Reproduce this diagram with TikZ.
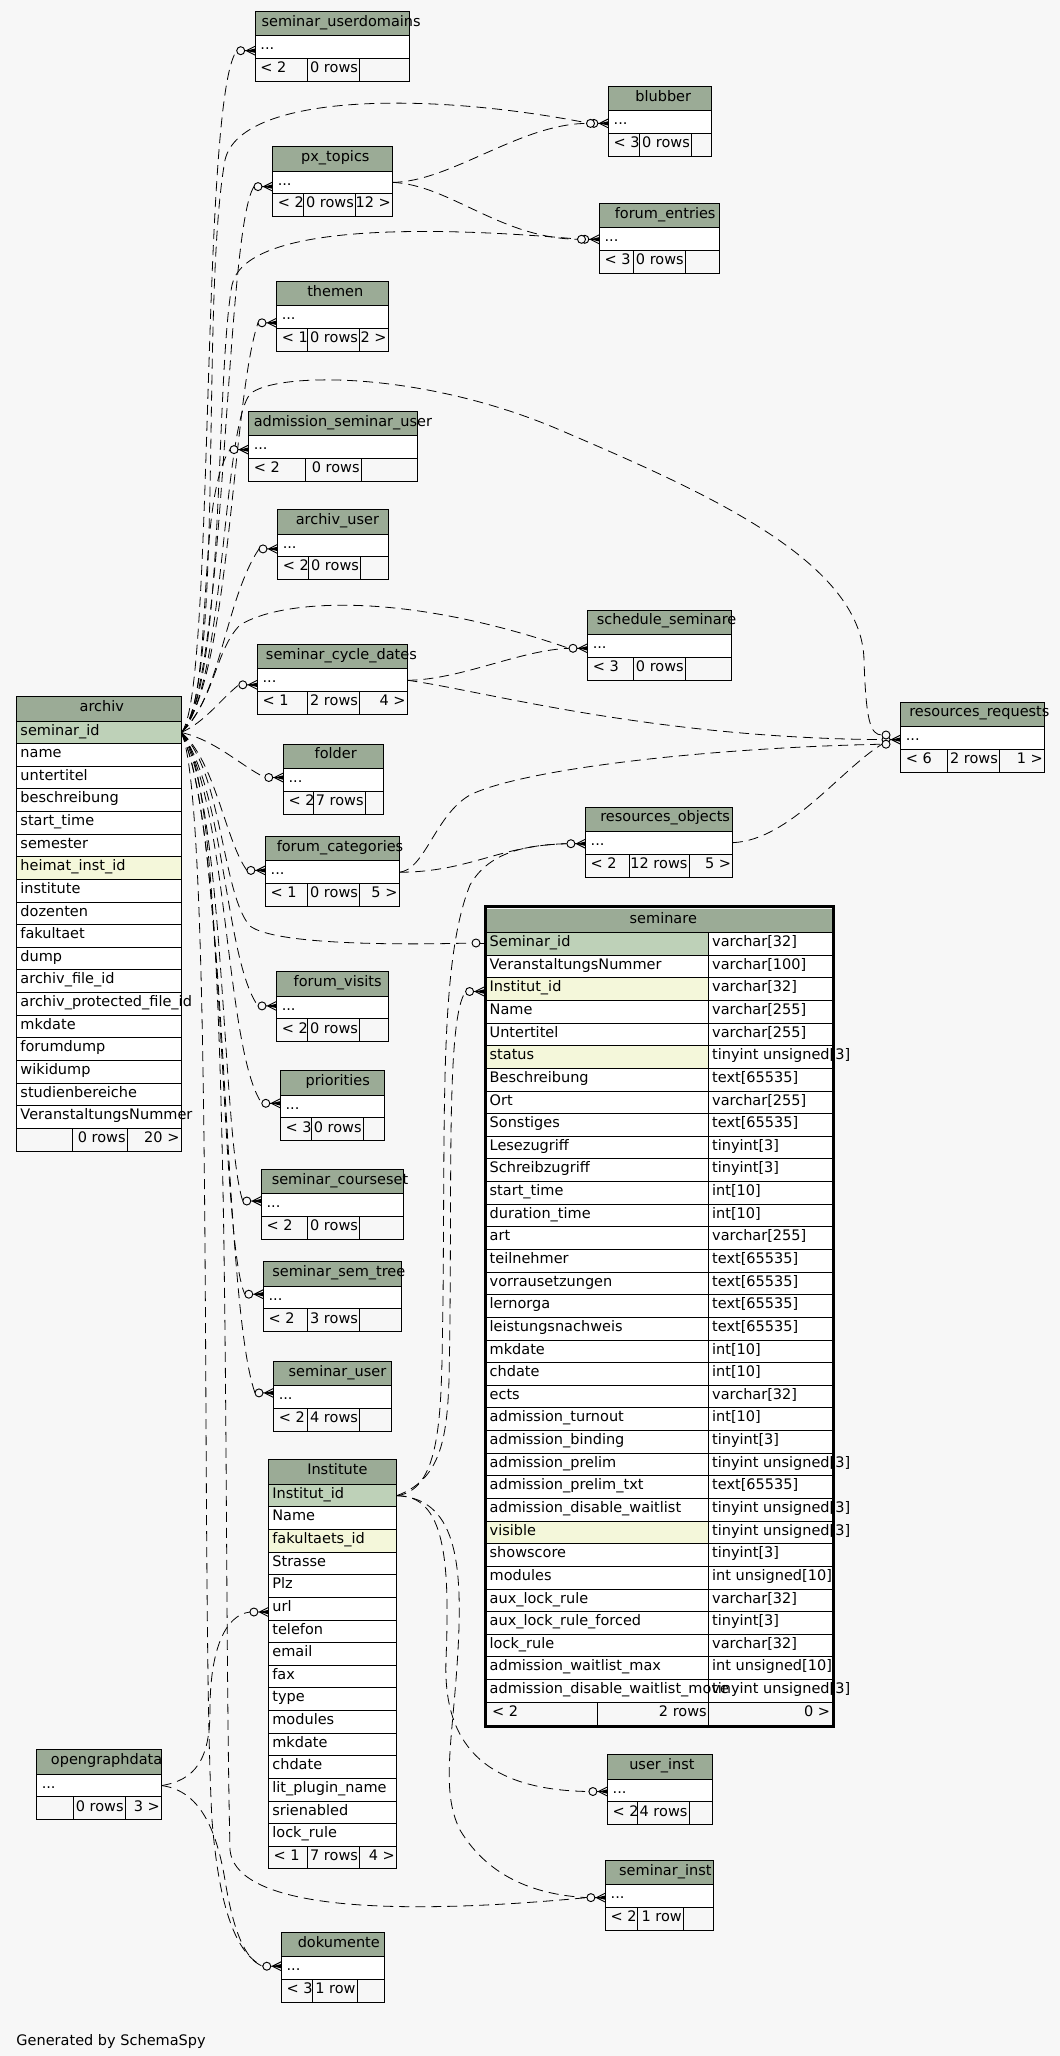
\documentclass[tikz,border=0pt]{standalone}
\usepackage{fontspec}
\setmainfont{DejaVu Sans}
\definecolor{bg}{HTML}{F7F7F7}
\definecolor{hdr}{HTML}{9BAB96}
\definecolor{pk}{HTML}{BED1B8}
\definecolor{idx}{HTML}{F4F7DA}
\newcommand\tfont{\fontsize{10.875pt}{13pt}\selectfont}
\pgfdeclarelayer{back}
\pgfdeclarelayer{edges}
\pgfsetlayers{back,edges,main}
\tikzset{
 txt/.style={inner sep=0pt, anchor=base west, font=\tfont},
 txtr/.style={inner sep=0pt, anchor=base east, font=\tfont},
 cell/.style={draw=black, line width=0.7pt},
 rel/.style={draw=black, line width=0.6pt, dash pattern=on 7.5pt off 4.5pt},
}
% small table: name, title, titlex, x0, y0, x1, c1, c2, f1 | f2, f3
\newcommand\stab[9]{\def\tbN{#1}\def\tbT{#2}\def\tbTX{#3}\def\tbXa{#4}\def\tbYa{#5}\def\tbXb{#6}\def\tbCa{#7}\def\tbCb{#8}\def\tbFa{#9}\stabB}
\newcommand\stabB[2]{%
 \pgfmathsetmacro\tbYb{\tbYa+24.3}%
 \pgfmathsetmacro\tbYc{\tbYb+22.7}%
 \pgfmathsetmacro\tbYd{\tbYc+23}%
 \pgfmathsetmacro\tbHm{(\tbYa+\tbYb)/2+2.7}%
 \pgfmathsetmacro\tbRm{(\tbYb+\tbYc)/2}%
 \pgfmathsetmacro\tbRb{\tbRm+2.7}%
 \pgfmathsetmacro\tbFm{(\tbYc+\tbYd)/2+2.7}%
 \pgfmathsetmacro\tbXl{\tbXa+5}%
 \pgfmathsetmacro\tbXr{\tbXb-1.5}%
 \pgfmathsetmacro\tbXc{\tbCb-1.5}%
 \fill[hdr] (\tbXa,\tbYa) rectangle (\tbXb,\tbYb);
 \fill[white] (\tbXa,\tbYb) rectangle (\tbXb,\tbYc);
 \fill[bg] (\tbXa,\tbYc) rectangle (\tbXb,\tbYd);
 \node[txt] (\tbN-title) at (\tbTX,\tbHm) {\tbT};
 \node[txt] (\tbN-row) at (\tbXl,\tbRb) {...};
 \node[txt] (\tbN-f1) at (\tbXl,\tbFm) {\tbFa};
 \node[txtr] (\tbN-f2) at (\tbXc,\tbFm) {#1};
 \node[txtr] (\tbN-f3) at (\tbXr,\tbFm) {#2};
 \draw[cell] (\tbXa,\tbYa) rectangle (\tbXb,\tbYd) (\tbXa,\tbYb) -- (\tbXb,\tbYb) (\tbXa,\tbYc) -- (\tbXb,\tbYc) (\tbCa,\tbYc) -- (\tbCa,\tbYd) (\tbCb,\tbYc) -- (\tbCb,\tbYd);
 \coordinate (\tbN-w) at (\tbXa,\tbRm);
 \coordinate (\tbN-e) at (\tbXb,\tbRm);
}
% crow's foot with circle: name, edge x, y
\newcommand\crow[3]{%
 \coordinate (#1) at ({#2-18.5},#3);
 \draw[cell] ({#2-10.5},#3) -- (#2,#3) ({#2-9},#3) -- (#2,{#3-4.5}) ({#2-9},#3) -- (#2,{#3+4.5});
 \fill ({#2-9},#3) -- (#2,{#3-2.2}) -- (#2,{#3+2.2}) -- cycle;
 \filldraw[cell, fill=bg] ({#2-14.5},#3) circle[radius=3pt];
}
\newcommand\extcirc[3]{%
 \coordinate (#1) at ({#2-4},#3);
 \filldraw[cell, fill=bg] (#2,#3) circle[radius=3pt];
}
\begin{document}
\begin{tikzpicture}[x=0.75pt,y=-0.75pt]
\useasboundingbox (0,0) rectangle (1060,2056);
\begin{pgfonlayer}{back}
\fill[bg] (0,0) rectangle (1060,2056);
\end{pgfonlayer}

% ---------- small tables
\stab{ud}{seminar\_userdomains}{261.3}{255.2}{11.5}{409.4}{307.3}{359.7}{< 2}{0 rows}{}
\stab{px}{px\_topics}{300.9}{272.5}{146.7}{392.5}{303.6}{355.6}{< 2}{0 rows}{12 >}
\stab{th}{themen}{307}{276.5}{281.3}{388.4}{307.3}{359.7}{< 1}{0 rows}{2 >}
\stab{bl}{blubber}{635.1}{608.4}{86.5}{711.5}{639.2}{691.6}{< 3}{0 rows}{}
\stab{fe}{forum\_entries}{614.5}{599.3}{203.2}{719.7}{633.4}{685.5}{< 3}{0 rows}{}
\stab{asu}{admission\_seminar\_user}{253.5}{248.5}{411.4}{417.8}{305.3}{361.4}{< 2}{0 rows}{}
\stab{au}{archiv\_user}{295.5}{277.5}{509.7}{388.4}{308.3}{360.7}{< 2}{0 rows}{}
\stab{scd}{seminar\_cycle\_dates}{265.7}{257.3}{644.6}{407.4}{307.3}{359.7}{< 1}{2 rows}{4 >}
\stab{fo}{folder}{314.4}{283.3}{744}{383.4}{313.4}{365.4}{< 2}{7 rows}{}
\stab{ss}{schedule\_seminare}{596.6}{587.5}{610}{731.8}{633.4}{685.5}{< 3}{0 rows}{}
\stab{rr}{resources\_requests}{909}{900.5}{702}{1044.5}{947.5}{999.6}{< 6}{2 rows}{1 >}
\stab{ro}{resources\_objects}{600}{585.4}{807}{732.8}{629.4}{689.2}{< 2}{12 rows}{5 >}
\stab{fc}{forum\_categories}{276.5}{265.4}{836.6}{399.2}{307.3}{359.7}{< 1}{0 rows}{5 >}
\stab{fv}{forum\_visits}{293.4}{276.5}{971.8}{388.4}{307.3}{359.7}{< 2}{0 rows}{}
\stab{pr}{priorities}{305.3}{280.3}{1070.8}{384.4}{311}{363.4}{< 3}{0 rows}{}
\stab{cs}{seminar\_courseset}{271.5}{261.3}{1169.6}{403.3}{307.3}{359.7}{< 2}{0 rows}{}
\stab{st}{seminar\_sem\_tree}{272.1}{263.3}{1261.8}{401.3}{307.3}{359.7}{< 2}{3 rows}{}
\stab{su}{seminar\_user}{288.4}{273.5}{1361.2}{391.5}{307.3}{359.7}{< 2}{4 rows}{}
\stab{og}{opengraphdata}{50.7}{36.5}{1749.9}{161.6}{73.4}{125.4}{}{0 rows}{3 >}
\stab{ui}{user\_inst}{629}{607.4}{1754.9}{712.6}{637.5}{689.2}{< 2}{4 rows}{}
\stab{si}{seminar\_inst}{618.9}{605.4}{1860.4}{713.6}{637.5}{683.5}{< 2}{1 row}{}
\stab{dk}{dokumente}{297.5}{281.3}{1932.4}{384.4}{312.7}{357.3}{< 3}{1 row}{}

% ---------- archiv
\fill[hdr] (16.2,696.7) rectangle (181.2,721);
\fill[white] (16.2,721) rectangle (181.2,1128.3);
\fill[pk] (16.2,721) rectangle (181.2,743.63);
\fill[idx] (16.2,{721+6*22.63}) rectangle (181.2,{721+7*22.63});
\fill[bg] (16.2,1128.3) rectangle (181.2,1151.6);
\node[txt] (archiv-title) at (79.4,711.6) {archiv};
\foreach \t [count=\i from 0] in {seminar\_id,name,untertitel,beschreibung,start\_time,semester,heimat\_inst\_id,institute,dozenten,fakultaet,dump,archiv\_file\_id,archiv\_protected\_file\_id,mkdate,forumdump,wikidump,studienbereiche,VeranstaltungsNummer}{
  \node[txt] (archiv-c\i) at (20.2,{721+22.63*\i+14}) {\t};
  \draw[cell] (16.2,{721+22.63*(\i+1)}) -- (181.2,{721+22.63*(\i+1)});
}
\node[txtr] (archiv-f2) at (125.9,1142.7) {0 rows};
\node[txtr] (archiv-f3) at (179.7,1142.7) {20 >};
\draw[cell] (16.2,696.7) rectangle (181.2,1151.6) (16.2,721) -- (181.2,721) (72.3,1128.3) -- (72.3,1151.6) (127.4,1128.3) -- (127.4,1151.6);
\coordinate (archiv-sid) at (181.2,732.5);

% ---------- Institute
\fill[hdr] (268.4,1459.9) rectangle (396.5,1484.2);
\fill[white] (268.4,1484.2) rectangle (396.5,1846.3);
\fill[pk] (268.4,1484.2) rectangle (396.5,1506.83);
\fill[idx] (268.4,{1484.2+2*22.63}) rectangle (396.5,{1484.2+3*22.63});
\fill[bg] (268.4,1846.3) rectangle (396.5,1868.5);
\node[txt] (inst-title) at (307,1474.7) {Institute};
\foreach \t [count=\i from 0] in {Institut\_id,Name,fakultaets\_id,Strasse,Plz,url,telefon,email,fax,type,modules,mkdate,chdate,lit\_plugin\_name,srienabled,lock\_rule}{
  \node[txt] (inst-c\i) at (272.1,{1484.2+22.63*\i+14}) {\t};
  \draw[cell] (268.4,{1484.2+22.63*(\i+1)}) -- (396.5,{1484.2+22.63*(\i+1)});
}
\node[txt] (inst-f1) at (273.4,1860.1) {< 1};
\node[txtr] (inst-f2) at (358.2,1860.1) {7 rows};
\node[txtr] (inst-f3) at (395,1860.1) {4 >};
\draw[cell] (268.4,1459.9) rectangle (396.5,1868.5) (268.4,1484.2) -- (396.5,1484.2) (307.3,1846.3) -- (307.3,1868.5) (359.7,1846.3) -- (359.7,1868.5);
\coordinate (inst-id) at (396.5,1495.7);

% ---------- seminare
\fill[hdr] (486.8,908.6) rectangle (831.9,932.6);
\fill[white] (486.8,932.6) rectangle (831.9,1702.2);
\fill[pk] (486.8,932.6) rectangle (708.5,955.235);
\fill[idx] (486.8,{932.6+2*22.635}) rectangle (708.5,{932.6+3*22.635});
\fill[idx] (486.8,{932.6+5*22.635}) rectangle (708.5,{932.6+6*22.635});
\fill[idx] (486.8,{932.6+26*22.635}) rectangle (708.5,{932.6+27*22.635});
\fill[bg] (486.8,1702.2) rectangle (831.9,1725.2);
\node[txt] (sem-title) at (629.4,923.3) {seminare};
\foreach \n/\ty [count=\i from 0] in {Seminar\_id/varchar[32],VeranstaltungsNummer/varchar[100],Institut\_id/varchar[32],Name/varchar[255],Untertitel/varchar[255],status/tinyint unsigned[3],Beschreibung/text[65535],Ort/varchar[255],Sonstiges/text[65535],Lesezugriff/tinyint[3],Schreibzugriff/tinyint[3],start\_time/int[10],duration\_time/int[10],art/varchar[255],teilnehmer/text[65535],vorrausetzungen/text[65535],lernorga/text[65535],leistungsnachweis/text[65535],mkdate/int[10],chdate/int[10],ects/varchar[32],admission\_turnout/int[10],admission\_binding/tinyint[3],admission\_prelim/tinyint unsigned[3],admission\_prelim\_txt/text[65535],admission\_disable\_waitlist/tinyint unsigned[3],visible/tinyint unsigned[3],showscore/tinyint[3],modules/int unsigned[10],aux\_lock\_rule/varchar[32],aux\_lock\_rule\_forced/tinyint[3],lock\_rule/varchar[32],admission\_waitlist\_max/int unsigned[10],admission\_disable\_waitlist\_move/tinyint unsigned[3]}{
  \node[txt] (sem-n\i) at (489.4,{932.6+22.635*\i+14}) {\n};
  \node[txt] (sem-t\i) at (711.9,{932.6+22.635*\i+14}) {\ty};
}
\node[txt] (sem-f1) at (491.8,1716.4) {< 2};
\node[txtr] (sem-f2) at (707,1716.4) {2 rows};
\node[txtr] (sem-f3) at (830.4,1716.4) {0 >};
\foreach \i in {1,...,34}{
  \draw[cell] (486.8,{932.6+22.635*\i}) -- (831.9,{932.6+22.635*\i});
}
\draw[cell] (486.8,932.6) -- (831.9,932.6) (708.5,932.6) -- (708.5,1725.2) (597.3,1702.2) -- (597.3,1725.2);
\draw[line width=2.25pt] (485.5,906.5) rectangle (833.6,1726.2);

% ---------- end markers
\crow{ud-in}{255.2}{50.7}
\crow{bl-in}{608.4}{123.4}
\extcirc{bl-in2}{590.5}{123.4}
\crow{px-in}{272.5}{186.6}
\crow{fe-in}{599.3}{239.3}
\extcirc{fe-in2}{581.5}{239.3}
\crow{th-in}{276.5}{322.8}
\crow{asu-in}{248.5}{449.6}
\crow{au-in}{277.5}{548.9}
\crow{ss-in}{587.5}{648.3}
\crow{scd-in}{257.3}{684.8}
\crow{rr-in}{900.5}{739.6}
\extcirc{rr-in2}{886}{744.2}
\extcirc{rr-in3}{886}{735}
\crow{fo-in}{283.3}{777.5}
\crow{ro-in}{585.4}{843.7}
\crow{fc-in}{265.4}{870.4}
\crow{fv-in}{276.5}{1005.9}
\crow{pr-in}{280.3}{1103.3}
\crow{cs-in}{261.3}{1201}
\crow{st-in}{263.3}{1294.2}
\crow{su-in}{273.5}{1392.9}
\crow{url-in}{268.4}{1612}
\crow{ui-in}{607.4}{1791.5}
\crow{si-in}{605.4}{1897.6}
\crow{dk-in}{281.3}{1966.2}
\crow{sem-iid}{484.1}{991.5}
\coordinate (sem-sid) at (472,943);
\draw[cell] (479,943) -- (484.1,943);
\filldraw[cell, fill=bg] (476,943) circle[radius=3pt];

\node[txt] (gen) at (16.2,2045) {Generated by SchemaSpy};

% ---------- connectors
\begin{pgfonlayer}{edges}
\draw[rel] (archiv-sid) .. controls (215,700) and (200,100) .. (ud-in);
\draw[rel] (archiv-sid) .. controls (225,690) and (200,300) .. (225,160) .. controls (240,95) and (420,90) .. (bl-in);
\draw[rel] (archiv-sid) .. controls (225,700) and (225,230) .. (px-in);
\draw[rel] (archiv-sid) .. controls (225,690) and (215,380) .. (232,285) .. controls (245,225) and (420,225) .. (fe-in);
\draw[rel] (archiv-sid) .. controls (230,680) and (232,400) .. (th-in);
\draw[rel] (archiv-sid) .. controls (225,690) and (222,430) .. (250,394) .. controls (275,372) and (420,370) .. (560,430) .. controls (700,490) and (862,560) .. (864,660) .. controls (866,720) and (870,735) .. (rr-in3);
\draw[rel] (archiv-sid) .. controls (215,700) and (195,500) .. (asu-in);
\draw[rel] (archiv-sid) .. controls (220,700) and (225,600) .. (au-in);
\draw[rel] (archiv-sid) .. controls (215,700) and (215,650) .. (240,625) .. controls (280,600) and (400,590) .. (ss-in);
\draw[rel] (archiv-sid) .. controls (205,722) and (220,700) .. (scd-in);
\draw[rel] (archiv-sid) .. controls (215,740) and (240,765) .. (fo-in);
\draw[rel] (archiv-sid) .. controls (215,760) and (225,840) .. (fc-in);
\draw[rel] (archiv-sid) .. controls (222,770) and (222,895) .. (250,926) .. controls (275,945) and (400,945) .. (sem-sid);
\draw[rel] (archiv-sid) .. controls (225,790) and (225,960) .. (fv-in);
\draw[rel] (archiv-sid) .. controls (228,800) and (225,1050) .. (pr-in);
\draw[rel] (archiv-sid) .. controls (225,800) and (222,1140) .. (cs-in);
\draw[rel] (archiv-sid) .. controls (225,820) and (220,1240) .. (st-in);
\draw[rel] (archiv-sid) .. controls (228,830) and (222,1300) .. (su-in);
\draw[rel] (archiv-sid) .. controls (215,800) and (200,1600) .. (212,1820) .. controls (220,1920) and (240,1955) .. (dk-in);
\draw[rel] (archiv-sid) .. controls (235,780) and (222,1500) .. (230,1850) .. controls (235,1900) and (350,1920) .. (si-in);
\draw[rel] (px-e) .. controls (450,182) and (520,124) .. (bl-in2);
\draw[rel] (px-e) .. controls (450,185) and (500,238) .. (fe-in2);
\draw[rel] (scd-e) .. controls (460,680) and (520,650) .. (ss-in);
\draw[rel] (scd-e) .. controls (480,690) and (650,738) .. (rr-in);
\draw[rel] (fc-e) .. controls (470,872) and (500,845) .. (ro-in);
\draw[rel] (fc-e) .. controls (425,870) and (435,815) .. (470,795) .. controls (520,770) and (700,748) .. (rr-in2);
\draw[rel] (ro-e) .. controls (790,840) and (840,770) .. (rr-in2);
\draw[rel] (inst-id) .. controls (440,1480) and (447,1440) .. (449,1380) .. controls (453,1200) and (445,1020) .. (sem-iid);
\draw[rel] (inst-id) .. controls (445,1490) and (441,1400) .. (443,1300) .. controls (445,1100) and (440,960) .. (470,885) .. controls (490,850) and (530,845) .. (ro-in);
\draw[rel] (inst-id) .. controls (445,1495) and (450,1560) .. (446,1660) .. controls (443,1740) and (480,1790) .. (ui-in);
\draw[rel] (inst-id) .. controls (455,1498) and (463,1560) .. (458,1650) .. controls (453,1740) and (440,1790) .. (460,1830) .. controls (490,1880) and (540,1895) .. (si-in);
\draw[rel] (og-e) .. controls (195,1780) and (210,1760) .. (210,1710) .. controls (210,1650) and (225,1615) .. (url-in);
\draw[rel] (og-e) .. controls (195,1790) and (215,1820) .. (225,1880) .. controls (233,1930) and (245,1960) .. (dk-in);
\end{pgfonlayer}
\end{tikzpicture}
\end{document}
